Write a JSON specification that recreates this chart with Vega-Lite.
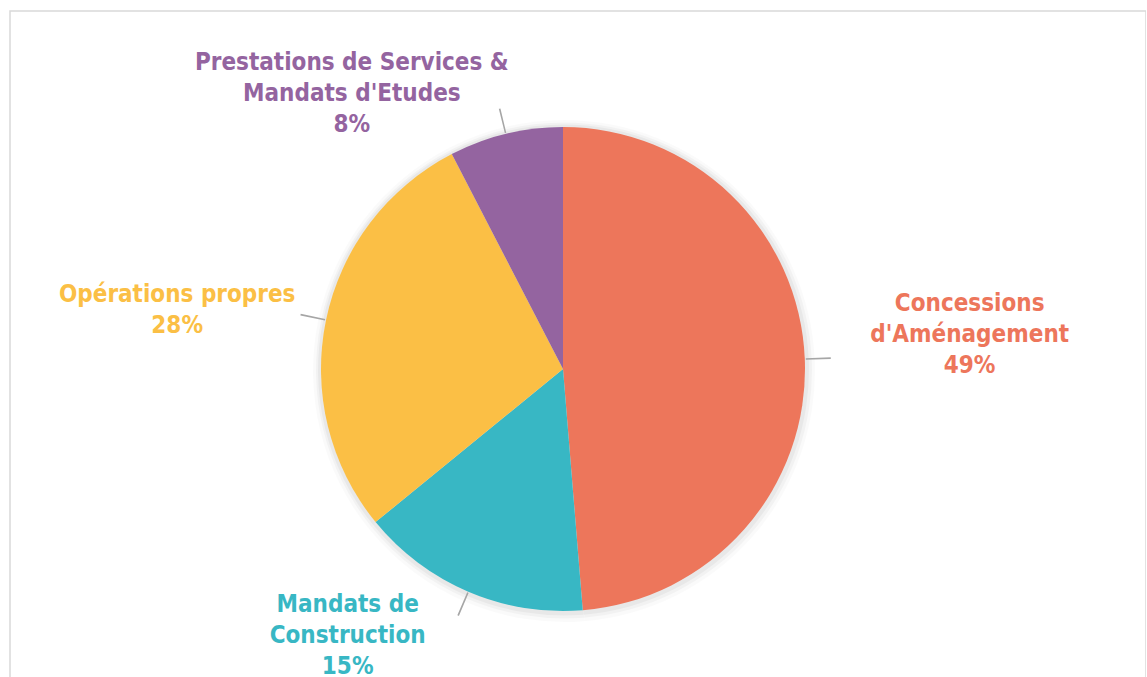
{
  "$schema": "https://vega.github.io/schema/vega-lite/v6.json",
  "width": 1136,
  "height": 700,
  "autosize": "none",
  "padding": {"left": 10, "top": 11, "right": 0, "bottom": 0},
  "background": "white",
  "data": {
    "values": [
      {"category": "Concessions\nd'Aménagement", "share": 48.7},
      {"category": "Mandats de\nConstruction", "share": 15.4},
      {"category": "Opérations propres", "share": 28.3},
      {"category": "Prestations de Services &\nMandats d'Etudes", "share": 7.6}
    ]
  },
  "transform": [
    {"window": [{"op": "row_number", "as": "idx"}]},
    {"stack": "share", "groupby": [], "sort": [{"field": "idx"}], "as": ["s0", "s1"]},
    {"calculate": "(datum.s0 + datum.s1) / 2", "as": "mid"},
    {"calculate": "datum.category + '\\n' + format(datum.share, '.0f') + '%'", "as": "label"}
  ],
  "encoding": {
    "color": {
      "field": "category",
      "type": "nominal",
      "scale": {
        "domain": ["Concessions\nd'Aménagement", "Mandats de\nConstruction", "Opérations propres", "Prestations de Services &\nMandats d'Etudes"],
        "range": ["#ED765B", "#38B7C4", "#FBBF45", "#9464A0"]
      },
      "legend": null
    }
  },
  "layer": [
    {
      "transform": [{"filter": "datum.idx == 1"}],
      "mark": {"type": "rect", "fill": null, "stroke": "#d9d9d9", "strokeWidth": 1.5},
      "encoding": {"color": {"value": null}}
    },
    {
      "mark": {"type": "arc", "x": 554, "y": 360, "radius": 251, "fill": "#000000", "fillOpacity": 0.02, "stroke": null},
      "encoding": {
        "theta": {"field": "s0", "type": "quantitative", "scale": {"domain": [0, 100]}, "stack": null},
        "theta2": {"field": "s1"},
        "color": {"value": "#000000"}
      }
    },
    {
      "mark": {"type": "arc", "x": 554, "y": 359.5, "radius": 248, "fill": "#000000", "fillOpacity": 0.03, "stroke": null},
      "encoding": {
        "theta": {"field": "s0", "type": "quantitative", "scale": {"domain": [0, 100]}, "stack": null},
        "theta2": {"field": "s1"},
        "color": {"value": "#000000"}
      }
    },
    {
      "mark": {"type": "arc", "x": 553.5, "y": 359, "radius": 245.5, "fill": "#000000", "fillOpacity": 0.04, "stroke": null},
      "encoding": {
        "theta": {"field": "s0", "type": "quantitative", "scale": {"domain": [0, 100]}, "stack": null},
        "theta2": {"field": "s1"},
        "color": {"value": "#000000"}
      }
    },
    {
      "mark": {"type": "arc", "x": 553, "y": 358, "radius": 242, "stroke": null},
      "encoding": {
        "theta": {"field": "s0", "type": "quantitative", "scale": {"domain": [0, 100]}, "stack": null},
        "theta2": {"field": "s1"}
      }
    },
    {
      "transform": [
        {"calculate": "datum.mid - 0.05", "as": "l0"},
        {"calculate": "datum.mid + 0.05", "as": "l1"}
      ],
      "mark": {"type": "arc", "x": 553, "y": 358, "radius": 268, "radius2": 243, "stroke": null},
      "encoding": {
        "theta": {"field": "l0", "type": "quantitative", "scale": {"domain": [0, 100]}, "stack": null},
        "theta2": {"field": "l1"},
        "color": {"value": "#a6a6a6"}
      }
    },
    {
      "transform": [{"filter": "datum.idx == 1"}],
      "mark": {"type": "text", "x": 553, "y": 358, "radius": 407, "dy": -48, "font": "DejaVu Sans Condensed", "fontWeight": "bold", "fontSize": 24, "lineHeight": 31, "lineBreak": "\n", "align": "center", "baseline": "middle"},
      "encoding": {
        "theta": {"field": "mid", "type": "quantitative", "scale": {"domain": [0, 100]}, "stack": null},
        "text": {"field": "label"}
      }
    },
    {
      "transform": [{"filter": "datum.idx == 2"}],
      "mark": {"type": "text", "x": 553, "y": 358, "radius": 287, "dx": -103, "dy": -28, "font": "DejaVu Sans Condensed", "fontWeight": "bold", "fontSize": 24, "lineHeight": 31, "lineBreak": "\n", "align": "center", "baseline": "middle"},
      "encoding": {
        "theta": {"field": "mid", "type": "quantitative", "scale": {"domain": [0, 100]}, "stack": null},
        "text": {"field": "label"}
      }
    },
    {
      "transform": [{"filter": "datum.idx == 3"}],
      "mark": {"type": "text", "x": 553, "y": 358, "radius": 394, "dy": 6, "font": "DejaVu Sans Condensed", "fontWeight": "bold", "fontSize": 24, "lineHeight": 31, "lineBreak": "\n", "align": "center", "baseline": "middle"},
      "encoding": {
        "theta": {"field": "mid", "type": "quantitative", "scale": {"domain": [0, 100]}, "stack": null},
        "text": {"field": "label"}
      }
    },
    {
      "transform": [{"filter": "datum.idx == 4"}],
      "mark": {"type": "text", "x": 553, "y": 358, "radius": 284, "dx": -144, "dy": -30, "font": "DejaVu Sans Condensed", "fontWeight": "bold", "fontSize": 24, "lineHeight": 31, "lineBreak": "\n", "align": "center", "baseline": "middle"},
      "encoding": {
        "theta": {"field": "mid", "type": "quantitative", "scale": {"domain": [0, 100]}, "stack": null},
        "text": {"field": "label"}
      }
    }
  ]
}
